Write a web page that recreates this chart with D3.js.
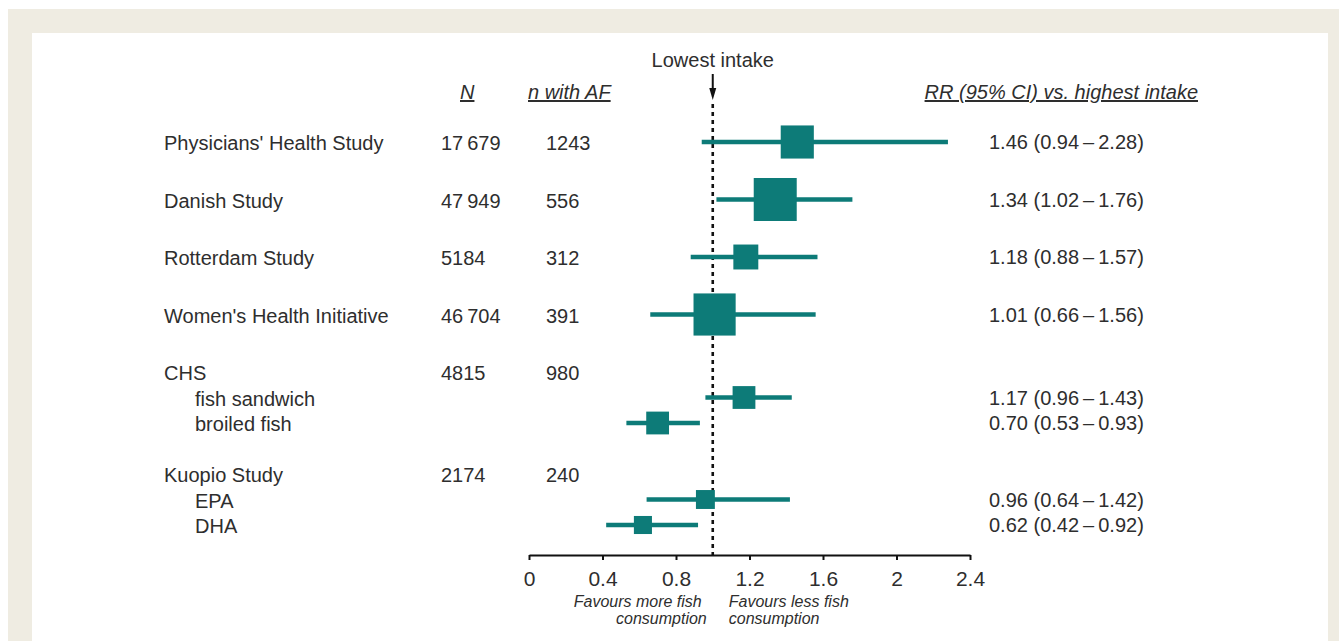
<!DOCTYPE html>
<html>
<head>
<meta charset="utf-8">
<script src="https://cdn.jsdelivr.net/npm/d3@7"></script>
<style>
  body { margin: 0; background: #fff; }
  svg { display: block; font-family: "Liberation Sans", Arial, sans-serif; }
</style>
</head>
<body>
<div id="chart"></div>
<script>
const studies = ["Physicians' Health Study", 'Danish Study', 'Rotterdam Study', "Women's Health Initiative", 'CHS', 'Kuopio Study'];
const totalN = [17679, 47949, 5184, 46704, 4815, 2174];
const casesAF = [1243, 556, 312, 391, 980, 240];
const subgroups = [[], [], [], [], ['fish sandwich', 'broiled fish'], ['EPA', 'DHA']];

// one estimate per plotted line, in drawing order
const rr = [1.46, 1.34, 1.18, 1.01, 1.17, 0.70, 0.96, 0.62];
const lower = [0.94, 1.02, 0.88, 0.66, 0.96, 0.53, 0.64, 0.42];
const upper = [2.28, 1.76, 1.57, 1.56, 1.43, 0.93, 1.42, 0.92];
const weight = [0.77, 1.0, 0.58, 0.98, 0.53, 0.53, 0.44, 0.42];

const xTicks = [0, 0.4, 0.8, 1.2, 1.6, 2, 2.4];

const width = 1339;
const height = 641;
const teal = '#0d7b78';
const ink = '#2e2e2e';

// build the table rows
let rows = [];
let k = 0;
studies.forEach((s, i) => {
    let main = { label: s, level: 0, n: totalN[i], af: casesAF[i], est: null };
    rows.push(main);
    if (subgroups[i].length === 0) {
        main.est = k++;
    } else {
        subgroups[i].forEach((g) => rows.push({ label: g, level: 1, est: k++ }));
    }
});

// vertical layout: wide gaps between studies, tight gaps within a study
let yPos = 143;
rows.forEach((r, i) => {
    if (i > 0) {
        let prev = rows[i - 1];
        if (r.level === 1) yPos += 25.5;
        else if (prev.level === 1) yPos += 51;
        else yPos += 57.5;
    }
    r.y = yPos;
});

const fmtN = (v) => (v >= 10000 ? d3.format(',')(v).replace(',', '\u2009') : String(v));
const fmt2 = d3.format('.2f');

const x = d3.scaleLinear().domain([0, 2.4]).range([529, 970]);
const side = d3.scaleLinear().domain([0, 1]).range([0, 43]);

const svg = d3
    .select('#chart')
    .append('svg')
    .attr('width', width)
    .attr('height', height);

// page frame
svg.append('rect')
    .attr('x', 8)
    .attr('y', 9)
    .attr('width', width - 8)
    .attr('height', height - 9)
    .attr('fill', '#efece2');
svg.append('rect')
    .attr('x', 32)
    .attr('y', 33)
    .attr('width', 1328 - 32)
    .attr('height', height - 33)
    .attr('fill', '#fff');

// headers
const header = svg.append('g').attr('fill', ink).attr('font-size', 20);
header.append('text')
    .attr('x', x(1))
    .attr('y', 67)
    .attr('text-anchor', 'middle')
    .text('Lowest intake');
[
    { t: 'N', x: 460, anchor: 'start' },
    { t: 'n with AF', x: 528, anchor: 'start' },
    { t: 'RR (95% CI) vs. highest intake', x: 1198, anchor: 'end' },
].forEach((h) => {
    header.append('text')
        .attr('x', h.x)
        .attr('y', 99)
        .attr('text-anchor', h.anchor)
        .attr('font-style', 'italic')
        .attr('text-decoration', 'underline')
        .text(h.t);
});

// reference line at RR = 1 with arrow
svg.append('line')
    .attr('x1', x(1))
    .attr('x2', x(1))
    .attr('y1', 74)
    .attr('y2', 92)
    .attr('stroke', '#111')
    .attr('stroke-width', 2);
svg.append('path')
    .attr('d', `M${x(1) - 3.5},88L${x(1) + 3.5},88L${x(1)},100Z`)
    .attr('fill', '#111');
svg.append('line')
    .attr('x1', x(1))
    .attr('x2', x(1))
    .attr('y1', 104)
    .attr('y2', 555)
    .attr('stroke', '#111')
    .attr('stroke-width', 2.6)
    .attr('stroke-dasharray', '4,4');

// table text
const table = svg.append('g').attr('fill', ink).attr('font-size', 20);
table.selectAll('.label')
    .data(rows)
    .join('text')
    .attr('class', 'label')
    .attr('x', (d) => (d.level === 0 ? 164 : 195))
    .attr('y', (d) => d.y + 7)
    .text((d) => d.label);
table.selectAll('.n')
    .data(rows.filter((d) => d.level === 0))
    .join('text')
    .attr('class', 'n')
    .attr('x', 441)
    .attr('y', (d) => d.y + 7)
    .text((d) => fmtN(d.n));
table.selectAll('.af')
    .data(rows.filter((d) => d.level === 0))
    .join('text')
    .attr('class', 'af')
    .attr('x', 546)
    .attr('y', (d) => d.y + 7)
    .text((d) => d.af);

// estimates
const estRows = rows.filter((d) => d.est !== null);
const marks = svg.append('g');
marks.selectAll('line')
    .data(estRows)
    .join('line')
    .attr('x1', (d) => x(lower[d.est]))
    .attr('x2', (d) => x(upper[d.est]))
    .attr('y1', (d) => d.y - 1)
    .attr('y2', (d) => d.y - 1)
    .attr('stroke', teal)
    .attr('stroke-width', 4.5);
marks.selectAll('rect')
    .data(estRows)
    .join('rect')
    .attr('x', (d) => x(rr[d.est]) - side(weight[d.est]) / 2)
    .attr('y', (d) => d.y - 1 - side(weight[d.est]) / 2)
    .attr('width', (d) => side(weight[d.est]))
    .attr('height', (d) => side(weight[d.est]))
    .attr('fill', teal);

table.selectAll('.rr')
    .data(estRows)
    .join('text')
    .attr('class', 'rr')
    .attr('x', 989)
    .attr('y', (d) => d.y + 6)
    .text((d) => `${fmt2(rr[d.est])} (${fmt2(lower[d.est])}\u2009\u2013\u2009${fmt2(upper[d.est])})`);

// x axis
const axis = svg.append('g')
    .attr('transform', 'translate(0,555)')
    .call(d3.axisBottom(x).tickValues(xTicks).tickSize(5).tickSizeOuter(0).tickFormat(d3.format('')));
axis.select('.domain').attr('stroke', '#111').attr('stroke-width', 2);
axis.selectAll('.tick line').attr('stroke', '#111').attr('stroke-width', 2);
axis.selectAll('.tick text')
    .attr('fill', ink)
    .attr('font-size', 21)
    .attr('font-family', '"Liberation Sans", Arial, sans-serif')
    .attr('y', 31)
    .attr('dy', 0);

// direction notes
const notes = svg.append('g')
    .attr('fill', ink)
    .attr('font-size', 16)
    .attr('font-style', 'italic');
const left = notes.append('text').attr('text-anchor', 'end');
left.append('tspan').attr('x', x(1) - 11).attr('y', 607).text('Favours more fish');
left.append('tspan').attr('x', x(1) - 6).attr('y', 624).text('consumption');
const right = notes.append('text').attr('text-anchor', 'start');
right.append('tspan').attr('x', x(1) + 16).attr('y', 607).text('Favours less fish');
right.append('tspan').attr('x', x(1) + 16).attr('y', 624).text('consumption');
</script>
</body>
</html>
